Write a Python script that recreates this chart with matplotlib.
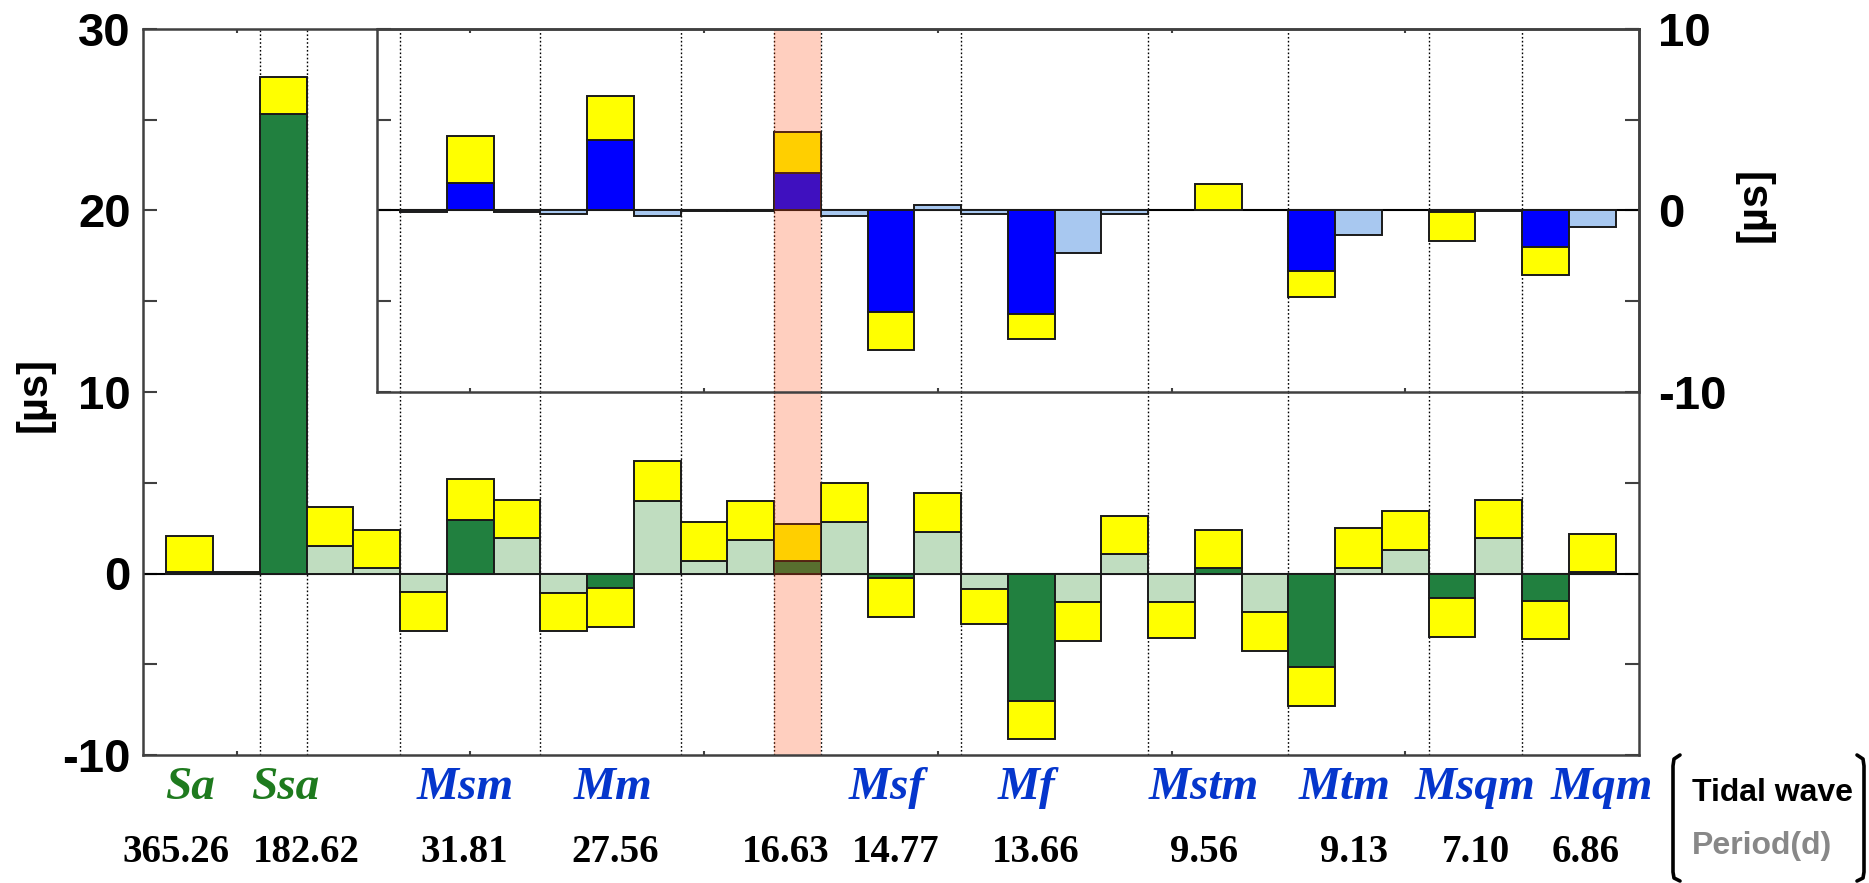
import numpy as np
import matplotlib
matplotlib.use("Agg")
import matplotlib.pyplot as plt
from matplotlib import transforms
from matplotlib.lines import Line2D

# Posición de cada barra (una columna por componente)
barras = np.arange(1, 32)

# Panel principal: barra verde y tope de la amarilla apilada encima (µs)
verde = [0.10, 0.10, 25.30, 1.52, 0.31, -1.02, 2.96, 1.98, -1.06, -0.80,
         3.98, 0.70, 1.85, 0.70, 2.83, -0.24, 2.28, -0.83, -7.04, -1.59,
         1.07, -1.59, 0.28, -2.13, -5.15, 0.28, 1.30, -1.35, 1.98, -1.50, 0.09]
amarillo = [2.07, np.nan, 27.35, 3.65, 2.41, -3.15, 5.19, 4.07, -3.15, -2.93,
            6.20, 2.83, 3.98, 2.72, 5.00, -2.37, 4.41, -2.80, -9.13, -3.72,
            3.19, -3.57, 2.41, -4.26, -7.28, 2.50, 3.43, -3.48, 4.07, -3.61, 2.19]
verde_oscuro = [1, 2, 3, 7, 10, 14, 16, 19, 23, 25, 28, 30, 31]

# Recuadro: barras 6..31, azul y tope de la amarilla (µs)
barras_zoom = np.arange(6, 32)
azul = [-0.06, 1.54, -0.06, -0.20, 3.89, -0.33, -0.05, -0.05, 2.09, -0.33,
        -5.60, 0.33, -0.22, -5.70, -2.35, -0.22, np.nan, 0.00, np.nan, -3.33,
        -1.33, np.nan, -0.10, -0.05, -2.02, -0.89]
amarillo_zoom = [np.nan, 4.13, np.nan, np.nan, 6.30, np.nan, np.nan, np.nan, 4.35, np.nan,
                 -7.70, np.nan, np.nan, -7.10, np.nan, np.nan, np.nan, 1.44, np.nan, -4.78,
                 np.nan, np.nan, -1.67, np.nan, -3.56, np.nan]
azul_oscuro = [7, 10, 14, 16, 19, 23, 25, 28, 30]

separadores = [2.5, 3.5, 5.5, 8.5, 11.5, 13.5, 14.5, 17.5, 21.5, 24.5, 27.5, 29.5]
resaltado = (13.5, 14.5)

ondas = ["Sa", "Ssa", "Msm", "Mm", "Msf", "Mf", "Mstm", "Mtm", "Msqm", "Mqm"]
ondas_solares = ["Sa", "Ssa"]
periodos = ["365.26", "182.62", "31.81", "27.56", "16.63", "14.77", "13.66",
            "9.56", "9.13", "7.10", "6.86"]

# donde va cada texto bajo el eje (en unidades de x)
x_ondas = [1.0, 3.05, 6.9, 10.05, 15.9, 18.9, 22.7, 25.7, 28.5, 31.2]
x_periodos = [0.71, 3.49, 6.88, 10.1, 13.75, 16.1, 19.1, 22.7, 25.9, 28.5, 30.85]

C_VERDE_OSC = "#21803F"
C_VERDE_CLA = "#C0DDC0"
C_AZUL_OSC = "#0000FF"
C_AZUL_CLA = "#A8C8F0"
C_AMARILLO = "#FFFF00"
C_BORDE = "#1A1A1A"
C_EJE = "#404040"

SANS = "Liberation Sans"
SERIF = "Liberation Serif"


def dibujar_barras(ax, x, base, tope, oscuros, c_osc, c_cla):
    base = np.array(base, dtype=float)
    tope = np.array(tope, dtype=float)
    colores = [c_osc if xi in oscuros else c_cla for xi in x]
    m = ~np.isnan(base)
    ax.bar(x[m], base[m], width=1.0, color=np.array(colores)[m],
           edgecolor=C_BORDE, linewidth=1.4, zorder=3)
    m2 = ~np.isnan(tope)
    b2 = np.nan_to_num(base)[m2]
    ax.bar(x[m2], tope[m2] - b2, bottom=b2, width=1.0, color=C_AMARILLO,
           edgecolor=C_BORDE, linewidth=1.4, zorder=3)


def estilo_ejes(ax):
    for s in ax.spines.values():
        s.set_linewidth(1.8)
        s.set_color(C_EJE)
        s.set_zorder(6)


fig = plt.figure(figsize=(18.69, 8.83), dpi=100)
ax = fig.add_axes([143 / 1869, 1 - 755 / 883, 1496 / 1869, 726 / 883])

for s in separadores:
    ax.axvline(s, color="k", ls=(0, (1.2, 1.6)), lw=1.0, zorder=1)
ax.axhline(0, color="k", lw=1.5, zorder=2)
dibujar_barras(ax, barras, verde, amarillo, verde_oscuro, C_VERDE_OSC, C_VERDE_CLA)
ax.axvspan(*resaltado, color=(1.0, 0.25, 0.0), alpha=0.25, lw=0, zorder=4)

ax.set_xlim(0, 32)
ax.set_ylim(-10, 30)
ax.set_xticks([2, 7, 12, 17, 22, 27])
ax.set_yticks(np.arange(-10, 31, 5))
ax.set_yticklabels(["-10", "", "0", "", "10", "", "20", "", "30"])
ax.tick_params(axis="x", direction="in", top=True, bottom=True, labelbottom=False,
               length=3, width=1.5, color=C_EJE)
ax.tick_params(axis="y", direction="in", left=True, right=True, length=10,
               width=1.5, color=C_EJE, pad=9, labelsize=34)
for t in ax.get_yticklabels():
    t.set_fontfamily(SANS)
    t.set_fontweight("bold")
estilo_ejes(ax)

# Recuadro con la parte lunar ampliada
ins = ax.inset_axes([5, 10, 27, 20], transform=ax.transData)
ins.set_facecolor("white")
for s in separadores:
    if s > 5:
        ins.axvline(s, color="k", ls=(0, (1.2, 1.6)), lw=1.0, zorder=1)
ins.axhline(0, color="k", lw=1.5, zorder=2)
dibujar_barras(ins, barras_zoom, azul, amarillo_zoom, azul_oscuro, C_AZUL_OSC, C_AZUL_CLA)
ins.axvspan(*resaltado, color=(1.0, 0.25, 0.0), alpha=0.25, lw=0, zorder=4)
ins.set_xlim(5, 32)
ins.set_ylim(-10, 10)
ins.set_xticks([7, 12, 17, 22, 27])
ins.set_yticks([-10, -5, 0, 5, 10])
ins.set_yticklabels(["-10", "", "0", "", "10"])
ins.tick_params(axis="x", direction="in", top=True, bottom=True, labelbottom=False,
                length=3, width=1.5, color=C_EJE)
ins.tick_params(axis="y", direction="in", left=True, right=True, labelleft=False,
                labelright=True, length=10, width=1.5, color=C_EJE, pad=14, labelsize=34)
for t in ins.get_yticklabels():
    t.set_fontfamily(SANS)
    t.set_fontweight("bold")
estilo_ejes(ins)

# Etiquetas de unidad
fig.text(35 / 1869, 1 - 395 / 883, "[µs]", rotation=90, ha="center", va="center",
         fontsize=30, fontweight="bold", family=SANS)
fig.text(1755 / 1869, 1 - 205 / 883, "[µs]", rotation=90, ha="center", va="center",
         fontsize=30, fontweight="bold", family=SANS)

# Nombres de las ondas y periodos bajo el eje
trans = transforms.blended_transform_factory(ax.transData, fig.transFigure)
for nombre, xp in zip(ondas, x_ondas):
    color = "#1E7A1E" if nombre in ondas_solares else "#0536CC"
    ax.text(xp, 1 - 788 / 883, nombre, transform=trans, ha="center", va="center",
            fontsize=34, fontweight="bold", fontstyle="italic", family=SERIF,
            color=color, clip_on=False)
for per, xp in zip(periodos, x_periodos):
    ax.text(xp, 1 - 852 / 883, per, transform=trans, ha="center", va="center",
            fontsize=28, fontweight="bold", family=SERIF, color="black", clip_on=False)

# Leyenda entre corchetes
fig.text(1692 / 1869, 1 - 793 / 883, "Tidal wave", ha="left", va="center",
         fontsize=23, fontweight="bold", family=SANS, color="black")
fig.text(1692 / 1869, 1 - 846 / 883, "Period(d)", ha="left", va="center",
         fontsize=23, fontweight="bold", family=SANS, color="#888888")


def corchete(xs, ys):
    fig.add_artist(Line2D(np.array(xs) / 1869, 1 - np.array(ys) / 883,
                          transform=fig.transFigure, color="black", lw=2.6,
                          solid_capstyle="round", solid_joinstyle="round"))


corchete([1680, 1674, 1673, 1673, 1674, 1680], [755, 759, 766, 872, 878, 881])
corchete([1857, 1863, 1864, 1864, 1863, 1857], [755, 759, 766, 872, 878, 881])

fig.savefig("out.png", dpi=100)
